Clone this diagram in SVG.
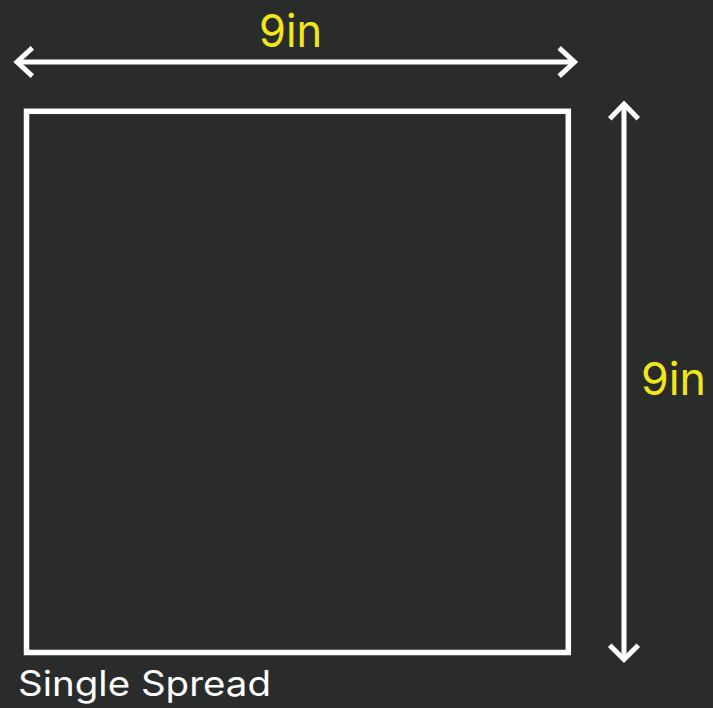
<svg xmlns="http://www.w3.org/2000/svg" width="713" height="708" viewBox="0 0 713 708">
<style>
.line{stroke:#ffffff;stroke-width:5;fill:none;stroke-linecap:butt}
.head{stroke:#ffffff;stroke-width:5;fill:none;stroke-linecap:square;stroke-linejoin:miter}
.dim{font-family:Inter,"Liberation Sans",Arial,sans-serif;font-size:45px;fill:#f2e61a}
.lbl{font-family:Inter,"Liberation Sans",Arial,sans-serif;font-size:35px;fill:#ffffff}
</style>
<rect x="0" y="0" width="713" height="708" fill="#292c2b"/>
<g id="page">
<rect x="26.5" y="111.3" width="541.8" height="541.2" fill="none" stroke="#ffffff" stroke-width="5.5"/>
<text class="lbl" x="18" y="696" textLength="253" lengthAdjust="spacingAndGlyphs">Single Spread</text>
</g>
<g id="connectors">
<g id="width-dim">
<line class="line" x1="17" y1="62" x2="574" y2="62"/>
<polyline class="head" points="30.5,49.5 17,62 30.5,74.5"/>
<polyline class="head" points="561,49.5 574.5,62 561,74.5"/>
</g>
<g id="height-dim">
<line class="line" x1="624" y1="104" x2="624" y2="659"/>
<polyline class="head" points="611.5,117 624,104 636.5,117"/>
<polyline class="head" points="611.5,647 624,659.5 636.5,647"/>
</g>
</g>
<g id="labels">
<text class="dim" x="259" y="47" textLength="63" lengthAdjust="spacingAndGlyphs">9in</text>
<text class="dim" x="641" y="395" textLength="65" lengthAdjust="spacingAndGlyphs">9in</text>
</g>
</svg>
